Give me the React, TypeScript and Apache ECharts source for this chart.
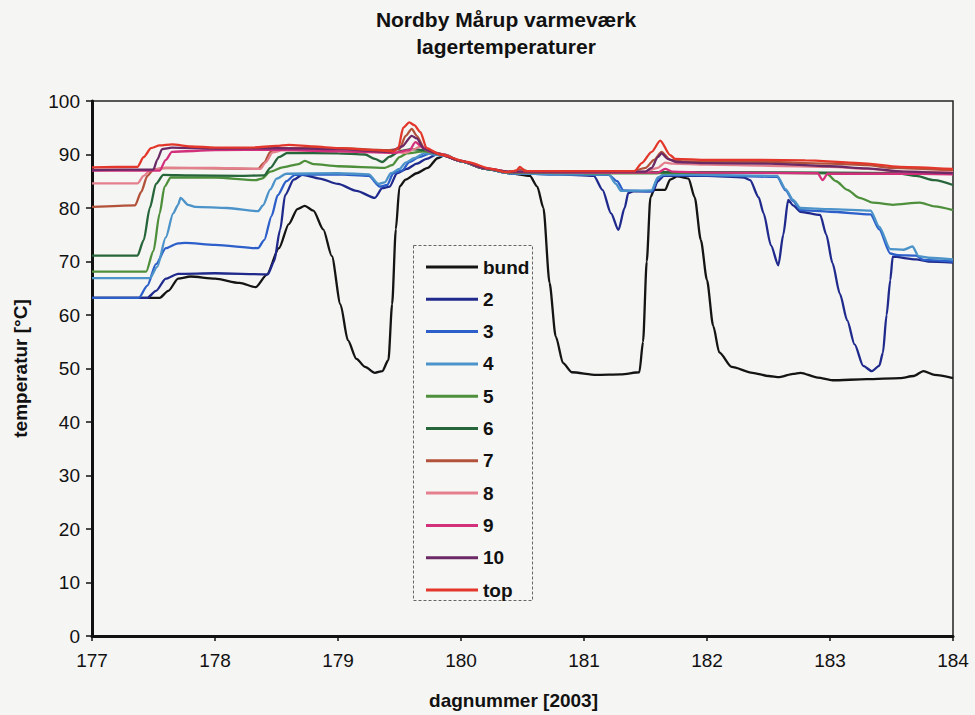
import React, { useEffect, useRef } from "react";
import * as echarts from "echarts";

const titleText = "Nordby Mårup varmeværk\nlagertemperaturer";
const xName = "dagnummer [2003]";
const yName = "temperatur [°C]";
const seriesNames = ["bund", "2", "3", "4", "5", "6", "7", "8", "9", "10", "top"];
const seriesColors = ["#141414", "#1f2a8c", "#2c5fc9", "#4b93c9", "#4e8f3c", "#27663a", "#b3523a", "#e4808e", "#d3307c", "#6b2a66", "#e2372a"];

const bund = [[177,63.2],[177.55,63.2],[177.62,64.5],[177.7,66.8],[177.8,67.2],[178.0,66.8],[178.2,66],[178.33,65.2],[178.42,67.5],[178.52,72.5],[178.6,77],[178.67,79.8],[178.73,80.4],[178.8,79.5],[178.88,76],[178.95,71],[179.02,62],[179.08,55.3],[179.15,51.8],[179.22,50.3],[179.3,49.2],[179.36,49.5],[179.41,51.6],[179.44,62],[179.47,76],[179.5,84],[179.55,85.3],[179.64,86.5],[179.73,87.5],[179.81,89.3],[179.86,89.8],[180.0,88.7],[180.2,87.3],[180.4,86.5],[180.56,86],[180.62,84],[180.67,80],[180.72,66],[180.77,56],[180.83,51],[180.9,49.3],[181.1,48.8],[181.3,48.9],[181.45,49.3],[181.48,55],[181.51,70],[181.54,82],[181.57,83.4],[181.66,83.4],[181.7,85.3],[181.76,85.9],[181.85,85.5],[181.9,82],[181.95,74],[182.0,66.5],[182.05,58],[182.1,53],[182.2,50.3],[182.37,49.2],[182.5,48.6],[182.59,48.4],[182.7,49],[182.76,49.2],[182.9,48.3],[183.02,47.8],[183.3,48],[183.57,48.2],[183.68,48.6],[183.76,49.5],[183.85,48.8],[184,48.2]];
const s2 = [[177,63.2],[177.45,63.2],[177.52,64.5],[177.6,66.8],[177.7,67.7],[178.0,67.8],[178.43,67.6],[178.48,70],[178.53,76],[178.57,82.4],[178.64,85.3],[178.71,86.2],[178.85,85.5],[179.0,84.5],[179.15,83.2],[179.3,81.9],[179.36,83.7],[179.42,84],[179.48,86.5],[179.56,87.3],[179.64,88.3],[179.72,89.2],[179.8,90],[179.86,89.8],[180.0,88.7],[180.2,87.3],[180.4,86.5],[180.8,86.3],[181.08,86],[181.15,83.4],[181.22,79],[181.28,75.9],[181.33,80],[181.36,82.8],[181.4,83.1],[181.56,83.1],[181.6,85],[181.65,86],[182.0,86],[182.3,85.7],[182.35,85.2],[182.42,82],[182.46,79],[182.52,73],[182.58,69.3],[182.62,75],[182.66,81.5],[182.7,80.5],[182.76,79.3],[182.92,78.7],[182.97,75],[183.02,69.7],[183.08,64],[183.14,59],[183.2,54.5],[183.27,50.5],[183.34,49.5],[183.4,50.5],[183.43,52.9],[183.46,60],[183.49,66.5],[183.51,70.9],[183.7,70.4],[183.8,70],[184,69.8]];
const s3 = [[177,63.2],[177.38,63.2],[177.45,65.5],[177.52,69.5],[177.6,72.5],[177.7,73.4],[177.76,73.5],[178.0,73.1],[178.35,72.5],[178.4,74],[178.46,78.5],[178.51,82.4],[178.58,85],[178.65,86.2],[179.0,86.3],[179.25,86],[179.34,84],[179.4,84.3],[179.45,86.5],[179.52,87],[179.58,88.6],[179.66,89.5],[179.75,90.2],[179.86,89.8],[180.0,88.7],[180.2,87.3],[180.4,86.5],[180.8,86.3],[181.2,86.2],[181.27,85],[181.32,83.3],[181.55,83.1],[181.6,85.5],[181.65,86.2],[182.0,86.1],[182.57,85.8],[182.64,83.3],[182.7,81.3],[182.76,79.6],[183.0,79.3],[183.33,78.8],[183.4,76],[183.49,71.5],[183.55,71.2],[183.7,71.1],[183.76,70.3],[184,70]];
const s4 = [[177,66.9],[177.47,66.9],[177.53,69],[177.6,74.5],[177.66,79],[177.7,80.6],[177.72,81.9],[177.78,80.6],[177.84,80.2],[178.1,80],[178.35,79.4],[178.39,80.5],[178.45,83.5],[178.5,85.5],[178.58,86.4],[179.0,86.5],[179.25,86.3],[179.33,84.5],[179.38,84.8],[179.43,86.5],[179.5,87.3],[179.55,88.5],[179.62,89.3],[179.7,90.2],[179.86,89.8],[180.0,88.7],[180.2,87.3],[180.4,86.5],[180.8,86.3],[181.2,86.3],[181.26,84.5],[181.3,83.2],[181.55,83.3],[181.6,85.7],[181.65,86.3],[182.0,86.2],[182.57,86],[182.64,83.5],[182.7,81.5],[182.76,80],[183.0,79.8],[183.33,79.5],[183.4,76.5],[183.49,72.3],[183.6,72.2],[183.67,72.8],[183.72,71],[183.8,70.7],[184,70.4]];
const s5 = [[177,68.1],[177.44,68.1],[177.5,72],[177.55,79],[177.59,84],[177.64,85.7],[178.0,85.7],[178.33,85.2],[178.38,85.5],[178.45,86.8],[178.55,87.6],[178.68,88.2],[178.73,88.8],[178.8,88.2],[179.0,87.8],[179.38,87.5],[179.44,88],[179.5,89.5],[179.56,90.2],[179.7,90.6],[179.86,89.9],[180.0,88.7],[180.2,87.3],[180.4,86.6],[181.0,86.5],[181.6,86.5],[182.0,86.6],[182.97,86.5],[183.05,85],[183.14,83.4],[183.24,81.9],[183.35,81],[183.51,80.6],[183.73,81],[183.85,80.3],[184,79.6]];
const s6 = [[177,71.1],[177.37,71.1],[177.42,74],[177.47,80],[177.52,84.5],[177.58,86.2],[177.8,86.1],[178.2,86],[178.4,86.1],[178.45,87.5],[178.52,89.5],[178.59,90.3],[179.0,90.2],[179.22,90],[179.3,89.2],[179.36,88.6],[179.42,89.6],[179.5,90.6],[179.6,91],[179.7,90.8],[179.86,90],[180.0,88.8],[180.2,87.3],[180.4,86.7],[181.0,86.6],[181.6,86.7],[182.0,86.7],[183.0,86.6],[183.55,86.5],[183.7,86],[183.85,85.2],[184,84.3]];
const s7 = [[177,80.2],[177.35,80.5],[177.4,83],[177.45,86],[177.5,87.2],[177.6,87.5],[178.0,87.4],[178.35,87.3],[178.4,88.5],[178.45,90.5],[178.52,91.2],[179.0,91.2],[179.4,90.8],[179.5,91],[179.55,93.5],[179.6,94.8],[179.64,93.5],[179.7,91.3],[179.8,90.3],[180.0,88.8],[180.2,87.4],[180.4,86.8],[180.5,87.2],[180.55,86.8],[181.4,86.9],[181.5,87.5],[181.57,89],[181.63,90.5],[181.7,89],[181.8,88.7],[182.5,88.6],[183.0,88.3],[183.3,88],[183.5,87.5],[184,87]];
const s8 = [[177,84.6],[177.37,84.6],[177.42,86],[177.47,87],[177.6,87.5],[178.0,87.5],[178.37,87.3],[178.41,88.5],[178.47,90.4],[178.55,90.8],[179.0,90.7],[179.45,90.5],[179.55,90.3],[179.62,91],[179.67,91.5],[179.72,90.8],[179.85,90],[180.0,88.8],[180.2,87.4],[180.4,86.8],[181.5,86.8],[181.6,87.5],[181.66,88.5],[181.72,88.3],[182.0,88.1],[182.5,87.9],[183.0,87.7],[183.3,87.3],[183.6,86.8],[184,86.7]];
const s9 = [[177,87],[177.55,87],[177.6,89],[177.65,90.5],[178.0,90.8],[178.5,90.9],[179.0,90.6],[179.45,90.3],[179.58,90.8],[179.63,92.3],[179.68,91.5],[179.75,90.5],[179.85,90],[180.0,88.8],[180.2,87.4],[180.4,86.7],[181.0,86.6],[181.6,86.6],[181.66,87.3],[181.72,86.8],[182.0,86.6],[182.9,86.5],[182.94,85.2],[182.98,86.4],[183.5,86.4],[184,86.3]];
const s10 = [[177,87.1],[177.5,87.2],[177.53,89],[177.57,91],[177.65,91.3],[178.0,91.1],[178.5,91.2],[179.0,91],[179.42,90.5],[179.52,91.5],[179.6,93.5],[179.64,93],[179.7,91],[179.8,90.2],[180.0,88.8],[180.2,87.4],[180.4,86.8],[181.5,86.8],[181.55,87.5],[181.6,89.5],[181.63,90.2],[181.68,89.2],[181.75,88.6],[182.0,88.4],[182.5,88.3],[183.0,87.8],[183.3,87.4],[183.6,86.8],[184,86.5]];
const top = [[177,87.6],[177.37,87.7],[177.42,89.5],[177.48,91.2],[177.55,91.7],[177.65,91.9],[177.8,91.5],[178.0,91.3],[178.3,91.3],[178.5,91.6],[178.6,91.8],[178.8,91.5],[179.0,91.2],[179.3,90.8],[179.45,90.6],[179.49,91.2],[179.53,95],[179.58,96],[179.62,95.5],[179.67,94.2],[179.72,91.2],[179.83,90],[180.05,88.6],[180.25,87.3],[180.37,86.7],[180.45,87],[180.48,87.7],[180.52,86.9],[181.0,86.9],[181.41,86.9],[181.47,88.4],[181.55,90.5],[181.62,92.6],[181.7,89.9],[181.74,89.2],[182.0,89],[182.43,89],[182.8,88.9],[183.24,88.4],[183.57,87.7],[184,87.3]];

const seriesData = [bund, s2, s3, s4, s5, s6, s7, s8, s9, s10, top];

const xMin = 177;
const xMax = 184;
const yMin = 0;
const yMax = 100;

const FONT = "'Liberation Sans', Arial, sans-serif";

export default function App() {
  const ref = useRef<HTMLDivElement>(null);
  useEffect(() => {
    if (!ref.current) return;
    const chart = echarts.init(ref.current, null, { renderer: "svg" });
    const series = seriesNames.map((name, i) => ({
      name,
      type: "line",
      data: seriesData[i],
      showSymbol: false,
      symbol: "none",
      smooth: 0.25,
      smoothMonotone: "x",
      lineStyle: { width: 2.3, color: seriesColors[i] },
      itemStyle: { color: seriesColors[i] },
      z: 2 + i,
    }));
    chart.setOption({
      animation: false,
      backgroundColor: "#f5f5f3",
      textStyle: { fontFamily: FONT },
      title: {
        text: titleText,
        left: 501,
        top: 1,
        textAlign: "center",
        textStyle: { fontFamily: FONT, fontSize: 21, fontWeight: "bold", lineHeight: 27, color: "#111" },
      },
      grid: {
        left: 92,
        right: 22,
        top: 101,
        bottom: 79,
        show: true,
        borderColor: "#222",
        borderWidth: 1.5,
        backgroundColor: "transparent",
      },
      xAxis: {
        type: "value",
        min: xMin,
        max: xMax,
        interval: 1,
        name: xName,
        nameLocation: "middle",
        nameGap: 55,
        nameTextStyle: { fontFamily: FONT, fontSize: 19, fontWeight: "bold", color: "#111", padding: [0, 18, 0, 0] },
        axisLine: { show: true, lineStyle: { color: "#111", width: 3 } },
        axisTick: { show: true, length: 5, lineStyle: { color: "#111", width: 1.5 } },
        axisLabel: { margin: 15, fontFamily: FONT, fontSize: 19, color: "#111" },
        splitLine: { show: false },
      },
      yAxis: {
        type: "value",
        min: yMin,
        max: yMax,
        interval: 10,
        name: yName,
        nameLocation: "middle",
        nameRotate: 90,
        nameGap: 62,
        nameTextStyle: { fontFamily: FONT, fontSize: 19, fontWeight: "bold", color: "#111" },
        axisLine: { show: true, lineStyle: { color: "#111", width: 3 } },
        axisTick: { show: true, length: 6, lineStyle: { color: "#111", width: 1.5 } },
        axisLabel: { margin: 12, fontFamily: FONT, fontSize: 19, color: "#111" },
        splitLine: { show: false },
      },
      legend: {
        orient: "vertical",
        left: 421,
        top: 252,
        icon: "rect",
        itemWidth: 52,
        itemHeight: 3,
        itemGap: 12.3,
        data: seriesNames,
        textStyle: { fontFamily: FONT, fontSize: 19, fontWeight: "bold", color: "#111", lineHeight: 20 },
        z: 20,
      },
      graphic: [
        {
          type: "rect",
          left: 413,
          top: 245,
          shape: { x: 0, y: 0, width: 119, height: 355 },
          style: { fill: "#f6f6f4", stroke: "#666", lineWidth: 1, lineDash: [3, 2] },
          z: 15,
        },
      ],
      series,
    });
    return () => chart.dispose();
  }, []);
  return (
    <div
      ref={ref}
      style={{ position: "fixed", left: 0, top: 0, width: 975, height: 715 }}
    />
  );
}
